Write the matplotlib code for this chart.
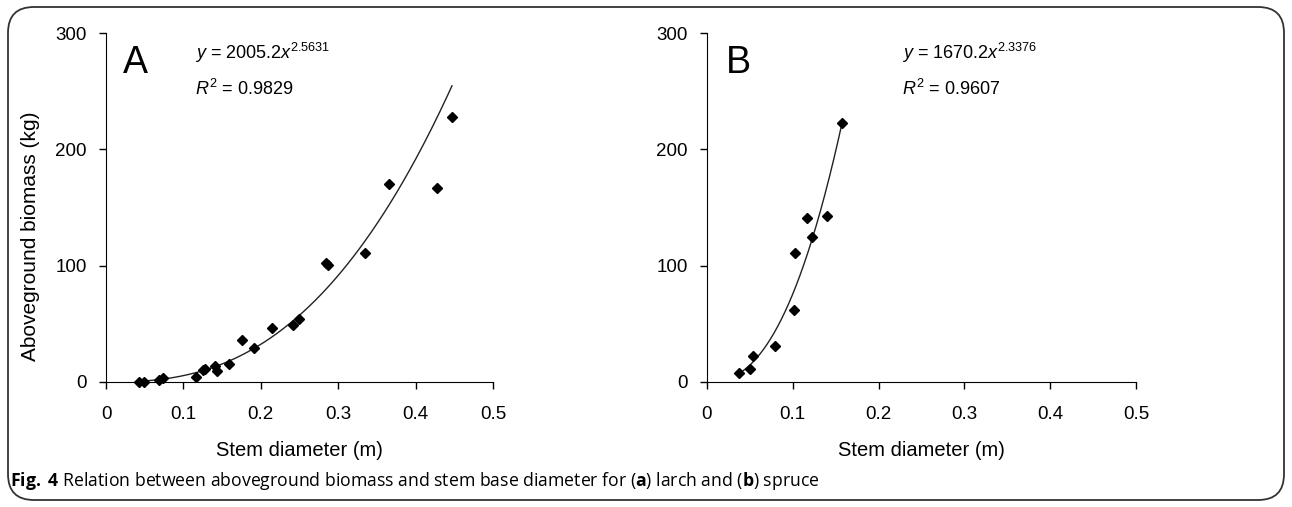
import numpy as np
import matplotlib
matplotlib.use("Agg")
import matplotlib.pyplot as plt
from matplotlib.patches import FancyBboxPatch

plt.rcParams['font.family'] = ['Liberation Sans', 'DejaVu Sans']
plt.rcParams['mathtext.fontset'] = 'custom'
plt.rcParams['mathtext.rm'] = 'Liberation Sans'
plt.rcParams['mathtext.it'] = 'Liberation Sans:italic'
plt.rcParams['mathtext.bf'] = 'Open Sans:bold'

# Panel A: larch
larch_d = [0.042, 0.049, 0.068, 0.073, 0.116, 0.125, 0.128, 0.141, 0.144, 0.159,
           0.176, 0.191, 0.215, 0.242, 0.249, 0.284, 0.287, 0.335, 0.366, 0.428, 0.447]
larch_b = [0.0, 0.0, 1.4, 3.4, 4.3, 10.0, 11.5, 13.8, 9.2, 15.8,
           35.9, 29.6, 46.8, 49.4, 54.5, 101.9, 100.5, 110.5, 170.5, 167.0, 227.4]
larch_coef = (2005.2, 2.5631)

# Panel B: spruce
spruce_d = [0.037, 0.050, 0.054, 0.079, 0.101, 0.102, 0.116, 0.122, 0.140, 0.157]
spruce_b = [7.8, 11.5, 22.4, 30.7, 62.3, 110.5, 140.7, 124.6, 143.0, 222.5]

xticks = [0, 0.1, 0.2, 0.3, 0.4, 0.5]
xtick_labels = ['0', '0.1', '0.2', '0.3', '0.4', '0.5']
yticks = [0, 100, 200, 300]

fig = plt.figure(figsize=(12.92, 5.07), dpi=100)

# rounded frame around figure
frame = FancyBboxPatch((8 / 1292, 7 / 507), 1276 / 1292, 493 / 507,
                       boxstyle="round,pad=0,rounding_size=0.02",
                       transform=fig.transFigure, fill=False,
                       edgecolor='#333333', linewidth=1.3, mutation_aspect=2.55)
fig.patches.append(frame)

ax1 = fig.add_axes([106 / 1292, 1 - 382 / 507, 387 / 1292, 349 / 507])
ax2 = fig.add_axes([707 / 1292, 1 - 382 / 507, 429 / 1292, 349 / 507])


def style(ax):
    ax.set_xlim(0, 0.5)
    ax.set_ylim(0, 300)
    ax.spines['top'].set_visible(False)
    ax.spines['right'].set_visible(False)
    ax.set_xticks(xticks)
    ax.set_xticklabels(xtick_labels)
    ax.set_yticks(yticks)
    ax.tick_params(direction='out', length=5, width=1, labelsize=13.5, pad=9)
    ax.tick_params(axis='x', pad=12)
    ax.set_xlabel('Stem diameter (m)', fontsize=14.5, labelpad=13)


style(ax1)
style(ax2)
ax1.set_ylabel('Aboveground biomass (kg)', fontsize=15)
ax1.yaxis.set_label_coords(-0.17, 0.418)

# Panel A
xa = np.linspace(min(larch_d), max(larch_d), 200)
ax1.plot(xa, larch_coef[0] * xa ** larch_coef[1], color='#222222', lw=1)
ax1.plot(larch_d, larch_b, 'D', color='black', ms=5.5, clip_on=False)
ax1.text(0.045, 0.965, 'A', transform=ax1.transAxes, fontsize=27, va='top')
ax1.text(0.23, 0.926, r'$y$ = 2005.2$x^{2.5631}$', transform=ax1.transAxes,
         fontsize=13, va='baseline')
ax1.text(0.23, 0.822, r'$R^2$ = 0.9829', transform=ax1.transAxes,
         fontsize=13, va='baseline')

# Panel B, power trend line fitted in log space
b_fit, ln_a = np.polyfit(np.log(spruce_d), np.log(spruce_b), 1)
xb = np.linspace(min(spruce_d), max(spruce_d), 200)
ax2.plot(xb, np.exp(ln_a) * xb ** b_fit, color='#222222', lw=1)
ax2.plot(spruce_d, spruce_b, 'D', color='black', ms=5.5, clip_on=False)
ax2.text(0.045, 0.965, 'B', transform=ax2.transAxes, fontsize=27, va='top')
ax2.text(0.455, 0.926, r'$y$ = 1670.2$x^{2.3376}$', transform=ax2.transAxes,
         fontsize=13, va='baseline')
ax2.text(0.455, 0.822, r'$R^2$ = 0.9607', transform=ax2.transAxes,
         fontsize=13, va='baseline')

fig.text(10 / 1292, 1 - 481 / 507,
         r'$\mathbf{Fig.\ 4}$ Relation between aboveground biomass and stem base '
         r'diameter for ($\mathbf{a}$) larch and ($\mathbf{b}$) spruce',
         fontsize=12.7, va='center', family=['Open Sans', 'DejaVu Sans'])

fig.savefig('out.png', dpi=100)
